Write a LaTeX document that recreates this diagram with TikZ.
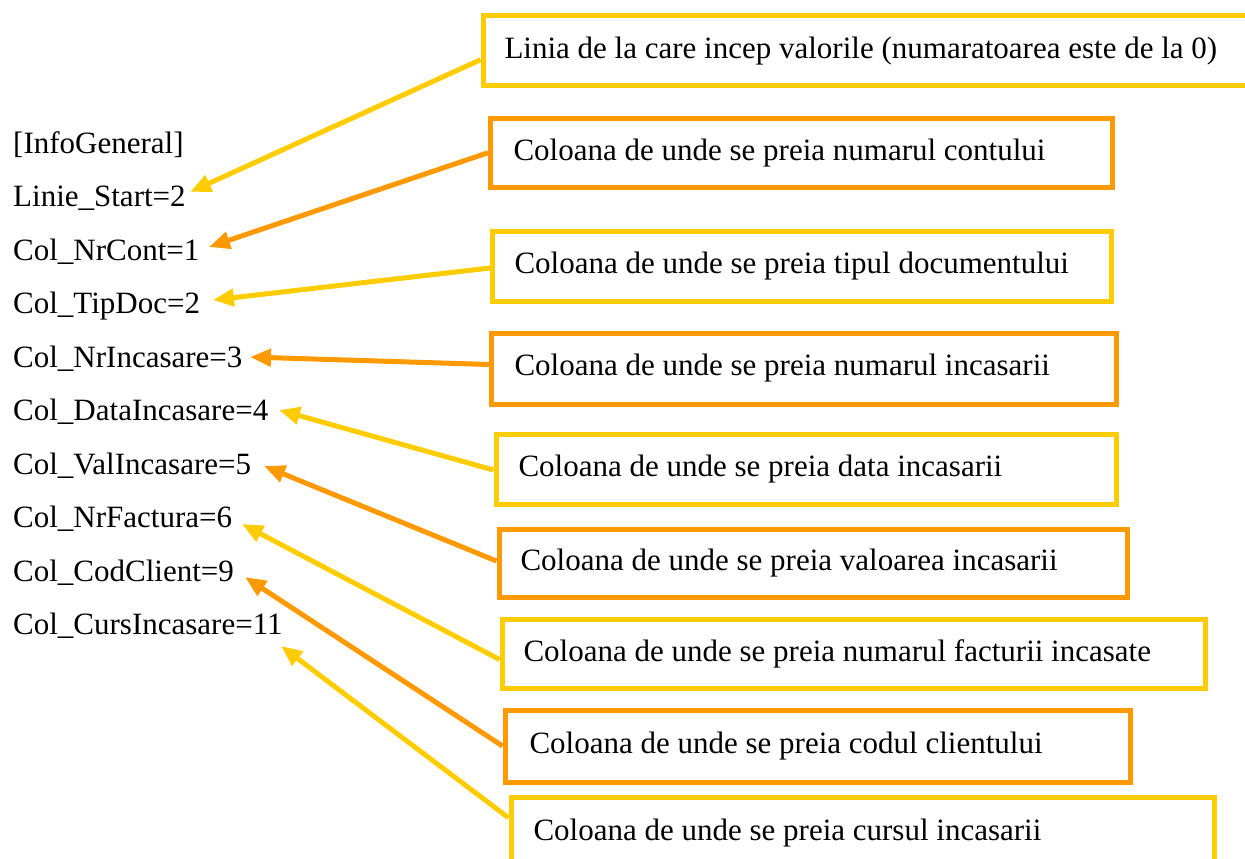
\documentclass[tikz,border=0pt]{standalone}
\usepackage{fontspec}
\setmainfont{Liberation Serif}
\usetikzlibrary{arrows.meta}
\definecolor{cY}{HTML}{FFCC00}
\definecolor{cO}{HTML}{FF9900}
\newcommand\mybox[8]{%
  \pgfmathsetmacro\bw{#5-#3}\pgfmathsetmacro\bh{#6-#4}%
  \pgfmathsetmacro\bs{#7-#3}\pgfmathsetmacro\tw{\bw-2*\bs}%
  \node[bx, draw=#2, inner xsep=\bs pt, minimum height=\bh pt] (#1) at (#3,#4) {\makebox[\tw pt][l]{#8}};}
\begin{document}
\begin{tikzpicture}[x=1pt,y=-1pt,
  font=\fontsize{31}{37}\selectfont,
  lbl/.style={anchor=base west, inner sep=0pt},
  bx/.style={line width=5pt, inner ysep=0pt, anchor=north west},
  arr/.style={line width=5pt, -{Triangle[length=21pt,width=17pt]}},
  arrY/.style={arr, draw=cY},
  arrO/.style={arr, draw=cO}]
\useasboundingbox (0,0) rectangle (1245,859);
% left labels
\node[lbl] (l0) at (13,153) {[InfoGeneral]};
\node[lbl] (l1) at (13,206.5) {Linie\_Start=2};
\node[lbl] (l2) at (13,260) {Col\_NrCont=1};
\node[lbl] (l3) at (13,313.5) {Col\_TipDoc=2};
\node[lbl] (l4) at (13,367) {Col\_NrIncasare=3};
\node[lbl] (l5) at (13,420.5) {Col\_DataIncasare=4};
\node[lbl] (l6) at (13,474) {Col\_ValIncasare=5};
\node[lbl] (l7) at (13,527.5) {Col\_NrFactura=6};
\node[lbl] (l8) at (13,581) {Col\_CodClient=9};
\node[lbl] (l9) at (13,634.5) {Col\_CursIncasare=11};
% boxes
\mybox{b1}{cY}{480.5}{13.5}{1265}{83}{502}{Linia de la care incep valorile (numaratoarea este de la 0)}
\mybox{b2}{cO}{488}{115.5}{1109.5}{185}{511}{Coloana de unde se preia numarul contului}
\mybox{b3}{cY}{490}{228.5}{1108.5}{298.5}{512}{Coloana de unde se preia tipul documentului}
\mybox{b4}{cO}{489}{330.5}{1113.5}{401.5}{512}{Coloana de unde se preia numarul incasarii}
\mybox{b5}{cY}{493.5}{431.5}{1113.5}{501.5}{516}{Coloana de unde se preia data incasarii}
\mybox{b6}{cO}{496.5}{526.5}{1124.5}{594.5}{518}{Coloana de unde se preia valoarea incasarii}
\mybox{b7}{cY}{499.5}{616.5}{1202.5}{685.5}{521}{Coloana de unde se preia numarul facturii incasate}
\mybox{b8}{cO}{502.5}{707.5}{1127.5}{779.5}{527}{Coloana de unde se preia codul clientului}
\mybox{b9}{cY}{508.5}{794.5}{1212}{866}{531}{Coloana de unde se preia cursul incasarii}
% arrow tips
\coordinate (t1) at (190,192);
\coordinate (t2) at (209,247);
\coordinate (t3) at (213,300);
\coordinate (t4) at (250,357);
\coordinate (t5) at (279,410);
\coordinate (t6) at (264,466);
\coordinate (t7) at (242,524);
\coordinate (t8) at (245,577);
\coordinate (t9) at (281,646);
% arrows
\draw[arrY] ([yshift=-9pt]b1.west) -- (t1);
\draw[arrO] ([yshift=0pt]b2.west) -- (t2);
\draw[arrY] ([yshift=-2pt]b3.west) -- (t3);
\draw[arrO] ([yshift=4pt]b4.west) -- (t4);
\draw[arrY] ([yshift=-1pt]b5.west) -- (t5);
\draw[arrO] ([yshift=2pt]b6.west) -- (t6);
\draw[arrY] ([yshift=-6pt]b7.west) -- (t7);
\draw[arrO] ([yshift=0pt]b8.west) -- (t8);
\draw[arrY] ([yshift=15pt]b9.west) -- (t9);
\end{tikzpicture}
\end{document}
